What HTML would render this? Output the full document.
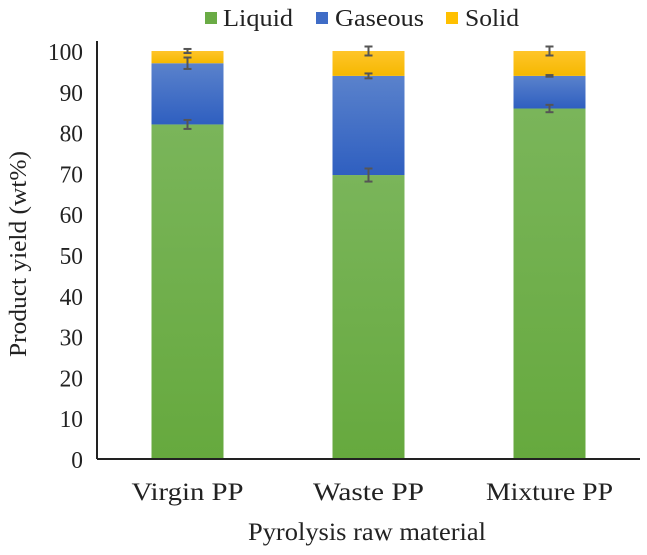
<!DOCTYPE html>
<html><head><meta charset="utf-8"><style>
body{margin:0;background:#fff}
svg text{font-family:"Liberation Serif",serif;fill:#222}
</style></head><body>
<svg width="647" height="550" viewBox="0 0 647 550">
<defs>
<linearGradient id="gG" x1="0" y1="0" x2="0" y2="1"><stop offset="0" stop-color="#7ab55a"/><stop offset="1" stop-color="#66a93e"/></linearGradient>
<linearGradient id="gB" x1="0" y1="0" x2="0" y2="1"><stop offset="0" stop-color="#5a82cc"/><stop offset="1" stop-color="#2f5fc0"/></linearGradient>
<linearGradient id="gY" x1="0" y1="0" x2="0" y2="1"><stop offset="0" stop-color="#ffc52a"/><stop offset="1" stop-color="#f5b800"/></linearGradient>
</defs>
<g id="legend">
<rect x="205" y="12" width="12" height="12" fill="#6aab45"/>
<text x="223" y="26" font-size="24" textLength="70" lengthAdjust="spacingAndGlyphs">Liquid</text>
<rect x="316" y="12" width="12" height="12" fill="#3f6cc6"/>
<text x="335" y="26" font-size="24" textLength="89" lengthAdjust="spacingAndGlyphs">Gaseous</text>
<rect x="446" y="12" width="12" height="12" fill="#ffc000"/>
<text x="465" y="26" font-size="24" textLength="54" lengthAdjust="spacingAndGlyphs">Solid</text>
</g>
<g id="plot"></g>
<text transform="translate(26,254) rotate(-90)" text-anchor="middle" font-size="24" textLength="206" lengthAdjust="spacingAndGlyphs">Product yield (wt%)</text>
<text x="367" y="540" text-anchor="middle" font-size="25" textLength="238" lengthAdjust="spacingAndGlyphs">Pyrolysis raw material</text>
</svg>
<script>
const categories=["Virgin PP","Waste PP","Mixture PP"];
const liquid=[82,69.6,85.9];
const gaseous=[15,24.3,8];
const solid=[3,6.1,6.1];
const liquidErr=[1.1,1.6,0.9];
const gaseousErr=[1.4,0.6,0.2];
const solidErr=[0.5,1.1,1.1];
const yTicks=[0,10,20,30,40,50,60,70,80,90,100];
const NS="http://www.w3.org/2000/svg";
const g=document.getElementById('plot');
const x0=97,x1=640,y0=459,y100=51;
const y=v=>y0-(y0-y100)*v/100;
const band=(x1-x0)/categories.length;
const cx=i=>x0+band*(i+0.5);
const bw=72;
const xLabelW=[112,111,127];
function mk(t,a){const e=document.createElementNS(NS,t);for(const k in a)e.setAttribute(k,a[k]);g.appendChild(e);return e;}
yTicks.forEach(t=>{
 const e=mk('text',{x:83,y:y(t)+9,'text-anchor':'end','font-size':24,'lengthAdjust':'spacingAndGlyphs','textLength':String(t).length*11.7});
 e.textContent=t;
 
 
});
const series=[[liquid,'url(#gG)','liquid',liquidErr],[gaseous,'url(#gB)','gaseous',gaseousErr],[solid,'url(#gY)','solid',solidErr]];
categories.forEach((c,i)=>{
 let base=0;const tops=[];
 series.forEach(([arr,fill,nm])=>{
  const top=base+arr[i];
  const r=mk('rect',{x:cx(i)-bw/2,y:y(top),width:bw,height:y(base)-y(top),fill:fill});
  
  
  tops.push(top);base=top;
 });
 series.forEach(([arr,fill,nm,err],k)=>{
  const v=tops[k],e=err[i],X=cx(i);
  const grp=document.createElementNS(NS,'g');
  
  
  grp.setAttribute('stroke','#555');grp.setAttribute('stroke-width','2');
  [[X,y(v+e),X,y(v-e)],[X-4,y(v+e),X+4,y(v+e)],[X-4,y(v-e),X+4,y(v-e)]].forEach(l=>{
   const ln=document.createElementNS(NS,'line');
   ln.setAttribute('x1',l[0]);ln.setAttribute('y1',l[1]);ln.setAttribute('x2',l[2]);ln.setAttribute('y2',l[3]);grp.appendChild(ln);});
  g.appendChild(grp);
 });
 const t=mk('text',{x:cx(i),y:500,'text-anchor':'middle','font-size':25,'textLength':xLabelW[i],'lengthAdjust':'spacingAndGlyphs'});
 t.textContent=c;
 
 
});
const ya=mk('line',{x1:x0,y1:y100-10,x2:x0,y2:y0,stroke:'#222','stroke-width':2});


const xa=mk('line',{x1:x0,y1:y0,x2:x1,y2:y0,stroke:'#222','stroke-width':2});


</script>
</body></html>
